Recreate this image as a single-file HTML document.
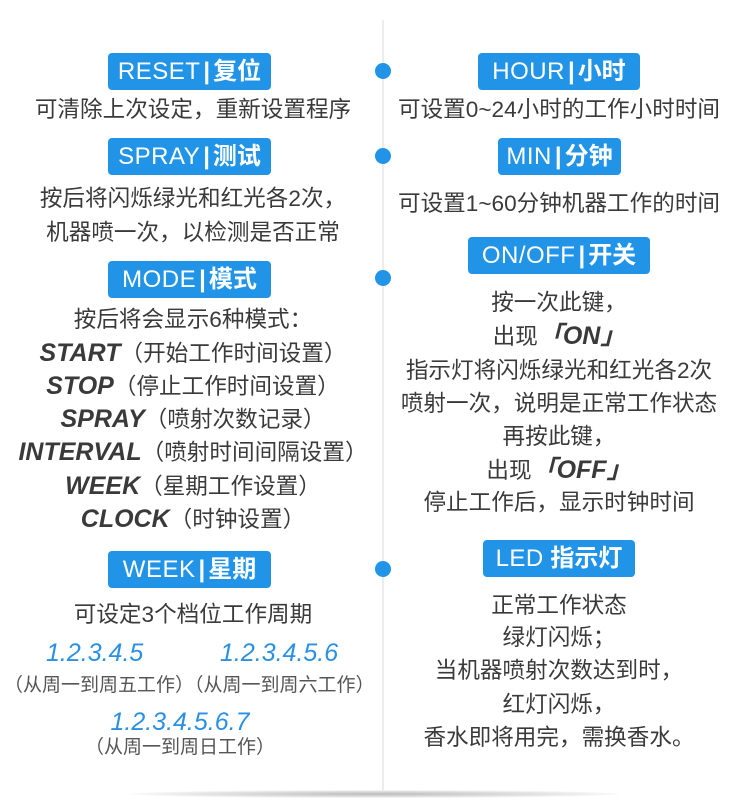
<!DOCTYPE html>
<html><head><meta charset="utf-8"><style>
*{margin:0;padding:0;box-sizing:border-box}
body{width:750px;height:799px;background:#fff;position:relative;overflow:hidden;font-family:"Liberation Sans","Noto Sans CJK SC",sans-serif;color:#3a3a3a}
.t{position:absolute;height:30px;line-height:30px;text-align:center;white-space:nowrap;font-size:22.6px}
.L{left:0;width:386px}
.R{left:384px;width:350px}
.b{position:absolute;background:#2294e8;border-radius:4px;color:#fff;text-align:center;line-height:37px;height:37px;font-size:24px;white-space:nowrap}
.b .e{font-weight:300;letter-spacing:0.5px}
.b .s{font-weight:bold;margin:0 3px}
.b .c{font-weight:bold}
.m{font-weight:bold;font-style:italic;font-size:25px;color:#3a3a3a}
.bl{color:#2a90e4;font-style:italic;font-size:25px}
.dot{position:absolute;left:375px;width:16px;height:16px;border-radius:50%;background:#2294e8}
.line{position:absolute;left:382px;top:20px;width:2px;height:770px;background:#ececec}
.sh{position:absolute;left:130px;top:790px;width:490px;height:8px;border-radius:50%;background:radial-gradient(ellipse at center,#bbb 0%,#e4e4e4 50%,rgba(255,255,255,0) 75%)}
</style></head><body>
<div class="line"></div>
<div class="sh"></div>
<div class="dot" style="top:63px"></div>
<div class="dot" style="top:148px"></div>
<div class="dot" style="top:270px"></div>
<div class="dot" style="top:561px"></div>

<div class="b" style="left:108px;top:53px;width:163px"><span class="e">RESET</span><span class="s">|</span><span class="c">复位</span></div>
<div class="t L" style="top:95px">可清除上次设定，重新设置程序</div>
<div class="b" style="left:108px;top:138px;width:163px"><span class="e">SPRAY</span><span class="s">|</span><span class="c">测试</span></div>
<div class="t L" style="top:184px">按后将闪烁绿光和红光各2次，</div>
<div class="t L" style="top:218px">机器喷一次，以检测是否正常</div>
<div class="b" style="left:108px;top:261px;width:163px"><span class="e">MODE</span><span class="s">|</span><span class="c">模式</span></div>
<div class="t L" style="top:305px">按后将会显示6种模式：</div>
<div class="t L" style="top:338px"><span class="m">START</span>（开始工作时间设置）</div>
<div class="t L" style="top:371px"><span class="m">STOP</span>（停止工作时间设置）</div>
<div class="t L" style="top:404px"><span class="m">SPRAY</span>（喷射次数记录）</div>
<div class="t L" style="top:437px"><span class="m">INTERVAL</span>（喷射时间间隔设置）</div>
<div class="t L" style="top:471px"><span class="m">WEEK</span>（星期工作设置）</div>
<div class="t L" style="top:504px"><span class="m">CLOCK</span>（时钟设置）</div>
<div class="b" style="left:108px;top:551px;width:163px"><span class="e">WEEK</span><span class="s">|</span><span class="c">星期</span></div>
<div class="t L" style="top:600px">可设定3个档位工作周期</div>
<div class="t bl" style="left:46px;top:638px">1.2.3.4.5</div>
<div class="t bl" style="left:220px;top:638px">1.2.3.4.5.6</div>
<div class="t" style="left:4px;top:671px;font-size:19px;color:#555">（从周一到周五工作）（从周一到周六工作）</div>
<div class="t bl" style="left:0;width:360px;top:707px">1.2.3.4.5.6.7</div>
<div class="t" style="left:0;width:360px;top:733px;font-size:19px;color:#555">（从周一到周日工作）</div>

<div class="b" style="left:478px;top:53px;width:162px"><span class="e">HOUR</span><span class="s">|</span><span class="c">小时</span></div>
<div class="t R" style="top:95px">可设置0~24小时的工作小时时间</div>
<div class="b" style="left:498px;top:138px;width:123px"><span class="e">MIN</span><span class="s">|</span><span class="c">分钟</span></div>
<div class="t R" style="top:189px">可设置1~60分钟机器工作的时间</div>
<div class="b" style="left:468px;top:237px;width:182px"><span class="e">ON/OFF</span><span class="s">|</span><span class="c">开关</span></div>
<div class="t R" style="top:288px">按一次此键，</div>
<div class="t R" style="top:321px">出现<span class="m">「ON」</span></div>
<div class="t R" style="top:356px">指示灯将闪烁绿光和红光各2次</div>
<div class="t R" style="top:389px">喷射一次，说明是正常工作状态</div>
<div class="t R" style="top:422px">再按此键，</div>
<div class="t R" style="top:455px">出现<span class="m">「OFF」</span></div>
<div class="t R" style="top:488px">停止工作后，显示时钟时间</div>
<div class="b" style="left:483px;top:540px;width:152px"><span class="e">LED</span> <span class="c">指示灯</span></div>
<div class="t R" style="top:591px">正常工作状态</div>
<div class="t R" style="top:623px">绿灯闪烁；</div>
<div class="t R" style="top:656px">当机器喷射次数达到时，</div>
<div class="t R" style="top:690px">红灯闪烁，</div>
<div class="t R" style="top:723px">香水即将用完，需换香水。</div>
</body></html>
